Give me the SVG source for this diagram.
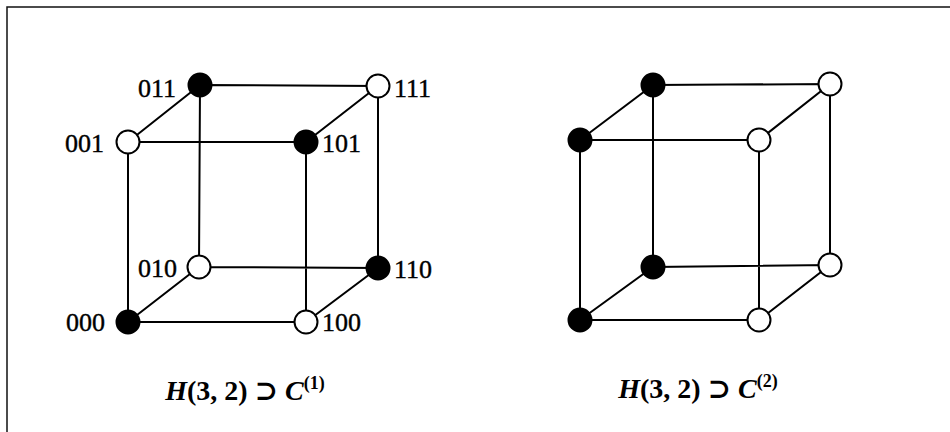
<svg xmlns="http://www.w3.org/2000/svg" width="950" height="432" viewBox="0 0 950 432">
<style>
.frame{fill:none;stroke:#111;stroke-width:1.5}
.edge{stroke:#000;stroke-width:2;fill:none}
.on{fill:#000;stroke:#000;stroke-width:2}
.off{fill:#fff;stroke:#000;stroke-width:2}
.lbl{font-family:"Liberation Serif","DejaVu Serif",serif;font-size:26px;fill:#000;stroke:#000;stroke-width:0.4}
.cap{font-family:"Liberation Serif","DejaVu Serif",serif;font-size:28px;font-weight:bold;fill:#000}
</style>
<rect width="950" height="432" fill="#fff"/>
<path class="frame" d="M7,432 V7 H950"/>
<g id="connectors">
  <path class="edge" d="M128,142 L200,85 L378,86 L306,142 Z M128,322 L199,267 L378,268 L306,322 Z M128,142 V322 M200,85 L199,267 M378,86 V268 M306,142 V322"/>
  <path class="edge" d="M580,140 L653,85 L830,84 L759,140 Z M580,320 L653,267 L830,265 L759,320 Z M580,140 V320 M653,85 V267 M830,84 V265 M759,140 V320"/>
</g>
<g id="n011"><circle class="on" cx="200" cy="85" r="11.5"/><text class="lbl" x="176" y="97" text-anchor="end">011</text></g>
<g id="n111"><circle class="off" cx="378" cy="86" r="11.5"/><text class="lbl" x="394" y="97">111</text></g>
<g id="n001"><circle class="off" cx="128" cy="142" r="11.5"/><text class="lbl" x="104" y="152" text-anchor="end">001</text></g>
<g id="n101"><circle class="on" cx="306" cy="142" r="11.5"/><text class="lbl" x="322" y="152">101</text></g>
<g id="n010"><circle class="off" cx="199" cy="267" r="11.5"/><text class="lbl" x="177" y="277" text-anchor="end">010</text></g>
<g id="n110"><circle class="on" cx="378" cy="268" r="11.5"/><text class="lbl" x="394" y="278">110</text></g>
<g id="n000"><circle class="on" cx="128" cy="322" r="11.5"/><text class="lbl" x="105" y="331" text-anchor="end">000</text></g>
<g id="n100"><circle class="off" cx="306" cy="322" r="11.5"/><text class="lbl" x="322" y="331">100</text></g>
<g id="m011"><circle class="on" cx="653" cy="85" r="11.5"/></g>
<g id="m111"><circle class="off" cx="830" cy="84" r="11.5"/></g>
<g id="m001"><circle class="on" cx="580" cy="140" r="11.5"/></g>
<g id="m101"><circle class="off" cx="759" cy="140" r="11.5"/></g>
<g id="m010"><circle class="on" cx="653" cy="267" r="11.5"/></g>
<g id="m110"><circle class="off" cx="830" cy="265" r="11.5"/></g>
<g id="m000"><circle class="on" cx="580" cy="320" r="11.5"/></g>
<g id="m100"><circle class="off" cx="759" cy="320" r="11.5"/></g>
<g id="caption1"><text class="cap" x="245" y="400" text-anchor="middle"><tspan font-style="italic">H</tspan>(3, 2) ⊃ <tspan font-style="italic">C</tspan><tspan font-size="18" dy="-11">(1)</tspan></text></g>
<g id="caption2"><text class="cap" x="698" y="398" text-anchor="middle"><tspan font-style="italic">H</tspan>(3, 2) ⊃ <tspan font-style="italic">C</tspan><tspan font-size="18" dy="-11">(2)</tspan></text></g>
</svg>
